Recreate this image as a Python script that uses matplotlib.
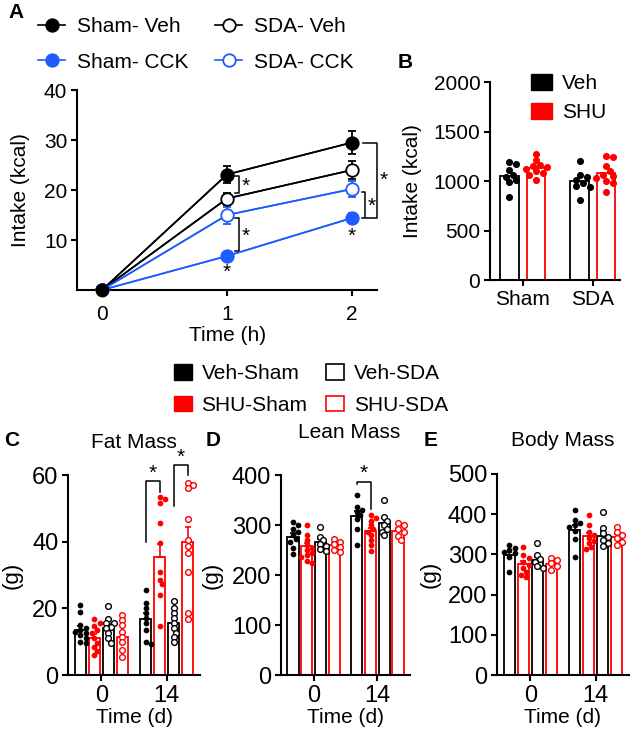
import numpy as np
import matplotlib
matplotlib.use("Agg")
import matplotlib.pyplot as plt
from matplotlib.patches import Patch

plt.rcParams["font.family"] = ["Liberation Sans", "DejaVu Sans"]
plt.rcParams["font.size"] = 15
plt.rcParams["axes.linewidth"] = 1.5
plt.rcParams["xtick.major.width"] = 1.5
plt.rcParams["ytick.major.width"] = 1.5
plt.rcParams["xtick.major.size"] = 4
plt.rcParams["ytick.major.size"] = 4

BLUE = "#1f5cff"
RED = "#ff0000"

# ---- panel A: intake time course
time_h = [0, 1, 2]
sham_veh = [0, 23.1, 29.5]
sham_veh_err = [0, 1.7, 2.3]
sda_veh = [0, 18.3, 24.0]
sda_veh_err = [0, 1.2, 1.8]
sham_cck = [0, 6.8, 14.4]
sham_cck_err = [0, 0.6, 1.0]
sda_cck = [0, 15.0, 20.2]
sda_cck_err = [0, 1.7, 1.6]

# ---- panel B: intake per group
b_groups = ["Sham", "SDA"]
b_veh_mean = [1050, 1000]
b_shu_mean = [1135, 1078]
b_veh_pts = [[1195, 1175, 1110, 1060, 1045, 1010, 990, 840],
             [1200, 1060, 1040, 1010, 980, 950, 940, 810]]
b_shu_pts = [[1270, 1210, 1160, 1150, 1140, 1120, 1100, 1080, 1060, 1010],
             [1250, 1245, 1150, 1100, 1060, 1050, 1030, 1000, 980, 890]]

# ---- panels C-E: body composition (order: Veh-Sham, SHU-Sham, Veh-SDA, SHU-SDA)
days = ["0", "14"]
fat_pts = [
    [[21, 19, 15, 14, 13.5, 13, 12.5, 12, 11, 10, 9.5], [25.5, 21.5, 20, 18.5, 17, 15.5, 13.5, 10, 9.3]],
    [[16.7, 15.7, 14.7, 13.5, 12.5, 11, 9.7, 8.5, 7.3, 6], [53.3, 52.7, 51.7, 45.7, 39.7, 31, 28.5, 27.3, 24, 14.7]],
    [[20.7, 16.7, 15.7, 15.5, 14.5, 14, 12.5, 11, 9.7], [22.3, 20, 18.5, 17, 15.5, 14, 12.7, 11.5, 10]],
    [[18, 16.5, 15, 13, 11.5, 10, 7.5, 5.5], [57.7, 57, 56, 46.7, 40.5, 38.7, 36.5, 31, 18.5, 16.7]],
]
fat_mean = [[13.5, 16.7], [11.2, 35.5], [14.1, 15.7], [11.5, 39.8]]
fat_err = [[1.1, 1.8], [1.1, 3.8], [1.1, 1.3], [1.5, 4.5]]

lean_pts = [
    [[306, 300, 293, 287, 280, 273, 267, 255, 243], [360, 337, 331, 327, 320, 313, 293, 260]],
    [[300, 280, 270, 260, 255, 250, 245, 240, 237, 228, 225], [320, 315, 309, 300, 293, 287, 280, 270, 260, 249]],
    [[297, 277, 270, 263, 258, 253, 249], [351, 317, 309, 300, 293, 287, 280]],
    [[273, 267, 262, 257, 251, 247], [305, 300, 293, 287, 278, 270]],
]
lean_mean = [[277, 318], [258, 288], [266, 305], [260, 289]]
lean_err = [[7, 11], [7, 7], [6, 9], [4, 6]]

body_pts = [
    [[323, 315, 311, 307, 303, 294, 257], [410, 386, 379, 373, 369, 357, 338, 293]],
    [[318, 298, 290, 282, 274, 266, 257, 249, 243], [398, 373, 356, 348, 340, 334, 328, 319, 313]],
    [[328, 298, 288, 280, 271, 266], [406, 365, 352, 344, 336, 328, 321]],
    [[290, 286, 278, 270, 261], [368, 356, 348, 340, 332, 324]],
]
body_mean = [[298, 361], [276, 345], [285, 347], [277, 344]]
body_err = [[8, 13], [7, 9], [9, 11], [5, 7]]

group_labels = ["Veh-Sham", "SHU-Sham", "Veh-SDA", "SHU-SDA"]

W, H = 634, 733
fig = plt.figure(figsize=(W / 100, H / 100), dpi=100)


def fx(px):
    return px / W


def fy(py):
    return 1 - py / H


def box(l, t, r, b):
    return [fx(l), fy(b), (r - l) / W, (b - t) / H]


def style_axes(ax):
    ax.spines["top"].set_visible(False)
    ax.spines["right"].set_visible(False)
    ax.tick_params(direction="out", pad=3)


def swarm(ax, x0, values, diam_px):
    # simple deterministic beeswarm in pixel space
    pts = ax.transData.transform([(x0, v) for v in values])
    xs0 = pts[0, 0]
    ys = pts[:, 1]
    offs = np.zeros(len(values))
    placed = []
    step = diam_px * 0.5
    for i in np.argsort(-np.asarray(values, dtype=float)):
        for k in range(40):
            cands = [0.0] if k == 0 else [k * step, -k * step]
            ok = None
            for c in cands:
                if all((c - px) ** 2 + (ys[i] - py) ** 2 >= (diam_px * 0.8) ** 2 for px, py in placed):
                    ok = c
                    break
            if ok is not None:
                offs[i] = ok
                placed.append((ok, ys[i]))
                break
    inv = ax.transData.inverted()
    return [inv.transform((xs0 + o, y))[0] for o, y in zip(offs, ys)]


def bracket(ax, x0, x1, y0, y1, xend=None, lw=1.1):
    # "]" shape: (x0,y0) -> (x1,y0) -> (x1,y1) -> (xend,y1)
    xe = x0 if xend is None else xend
    ax.plot([x0, x1, x1, xe], [y0, y0, y1, y1], color="k", lw=lw, clip_on=False)


# ================= Panel A =================
axA = fig.add_axes(box(77, 90, 377, 290))
style_axes(axA)
axA.set_xlim(-0.2, 2.2)
axA.set_ylim(0, 40)
series = [
    (sham_veh, sham_veh_err, "k", "k", "Sham- Veh"),
    (sda_veh, sda_veh_err, "k", "white", "SDA- Veh"),
    (sda_cck, sda_cck_err, BLUE, "white", "SDA- CCK"),
    (sham_cck, sham_cck_err, BLUE, BLUE, "Sham- CCK"),
]
handles = {}
for vals, err, col, fc, lab in series:
    axA.errorbar(time_h, vals, yerr=err, color=col, lw=1.2, elinewidth=1.3, capsize=3,
                 capthick=1.3, zorder=2)
    h, = axA.plot(time_h, vals, color=col, lw=1.2, marker="o", markersize=9,
                  markerfacecolor=fc, markeredgecolor=col, markeredgewidth=1.3, zorder=3)
    handles[lab] = h
axA.plot([0], [0], "o", color="k", markersize=9, zorder=4, clip_on=False)
axA.set_xticks([0, 1, 2])
axA.set_yticks([10, 20, 30, 40])
axA.tick_params(axis="x", pad=7)
axA.set_ylabel("Intake (kcal)")
axA.yaxis.set_label_coords(-0.157, 0.5)
axA.set_xlabel("Time (h)", labelpad=0)
axA.xaxis.set_label_coords(0.503, -0.178)

bracket(axA, 1.064, 1.096, 22.9, 19.5)
axA.text(1.15, 20.8, "*", ha="center", va="center", fontsize=15)
bracket(axA, 1.064, 1.096, 14.4, 7.8)
axA.text(1.15, 10.8, "*", ha="center", va="center", fontsize=15)
axA.text(1.0, 3.6, "*", ha="center", va="center", fontsize=15)
axA.text(2.0, 10.8, "*", ha="center", va="center", fontsize=15)
bracket(axA, 2.08, 2.104, 19.7, 14.4)
axA.text(2.155, 16.8, "*", ha="center", va="center", fontsize=15)
bracket(axA, 2.09, 2.2, 29.5, 14.4, xend=2.11)
axA.text(2.25, 22.0, "*", ha="center", va="center", fontsize=15, clip_on=False)

fig.legend([handles["Sham- Veh"], handles["Sham- CCK"], handles["SDA- Veh"], handles["SDA- CCK"]],
           ["Sham- Veh", "Sham- CCK", "SDA- Veh", "SDA- CCK"], ncol=2, loc="upper left",
           bbox_to_anchor=(fx(38), fy(17)), frameon=False, fontsize=15, handlelength=1.3,
           handletextpad=0.55, columnspacing=1.3, labelspacing=0.8, borderpad=0, borderaxespad=0)

fig.text(fx(8), fy(12), "A", fontsize=15, fontweight="bold", ha="left", va="center")

# ================= Panel B =================
axB = fig.add_axes(box(490, 82, 620, 280))
style_axes(axB)
axB.set_xlim(-0.467, 1.386)
axB.set_ylim(0, 2000)
bx = np.arange(len(b_groups))
bw = 0.26
for means, pts, col, off in [(b_veh_mean, b_veh_pts, "k", -0.19), (b_shu_mean, b_shu_pts, RED, 0.19)]:
    axB.bar(bx + off, means, bw, facecolor="white", edgecolor=col, linewidth=1.3, zorder=1)
    for g in range(len(b_groups)):
        xs = swarm(axB, bx[g] + off, pts[g], 7)
        axB.scatter(xs, pts[g], s=26, color=col, zorder=3, linewidths=0)
axB.set_xticks(bx)
axB.set_xticklabels(b_groups)
axB.set_yticks([0, 500, 1000, 1500, 2000])
axB.set_ylabel("Intake (kcal)")
axB.yaxis.set_label_coords(-0.52, 0.5)
fig.legend([Patch(fc="k", ec="k"), Patch(fc=RED, ec=RED)], ["Veh", "SHU"], loc="upper left",
           bbox_to_anchor=(fx(531), fy(74)), frameon=False, fontsize=15, handlelength=1.0,
           handleheight=0.8, handletextpad=0.5, labelspacing=0.45, borderpad=0, borderaxespad=0)
fig.text(fx(398), fy(62), "B", fontsize=15, fontweight="bold", ha="left", va="center")

# ================= middle legend =================
fig.legend([Patch(fc="k", ec="k"), Patch(fc=RED, ec=RED),
            Patch(fc="white", ec="k", lw=1.2), Patch(fc="white", ec=RED, lw=1.2)],
           group_labels, ncol=2, loc="upper left", bbox_to_anchor=(fx(174), fy(364)),
           frameon=False, fontsize=15, handlelength=0.87, handleheight=0.77, handletextpad=0.45,
           columnspacing=0.9, labelspacing=0.62, borderpad=0, borderaxespad=0)

# ================= Panels C-E =================
offsets = (np.arange(4) - 1.5) * 0.215
width = 0.174
colors = ["k", RED, "k", RED]
filled = [True, True, False, False]


def mass_panel(rect, pts, means, errs, ylim, yticks, title, title_xy, letter, letter_xy, ylab_x):
    ax = fig.add_axes(rect)
    style_axes(ax)
    ax.set_xlim(-0.51, 1.51)
    ax.set_ylim(*ylim)
    ax.set_yticks(yticks)
    ax.set_xticks([0, 1])
    ax.set_xticklabels(days)
    ax.tick_params(labelsize=17)
    for j in range(4):
        xs_bar = np.arange(2) + offsets[j]
        ax.bar(xs_bar, means[j], width, facecolor="white", edgecolor=colors[j], linewidth=1.3, zorder=1)
        ax.errorbar(xs_bar, means[j], yerr=[[0, 0], errs[j]], fmt="none", ecolor=colors[j],
                    elinewidth=1.2, capsize=2.5, capthick=1.2, zorder=2)
        for g in range(2):
            xs = swarm(ax, xs_bar[g], pts[j][g], 5.5)
            if filled[j]:
                ax.scatter(xs, pts[j][g], s=17, color=colors[j], linewidths=0, zorder=3)
            else:
                ax.scatter(xs, pts[j][g], s=17, facecolor="white", edgecolor=colors[j],
                           linewidths=1.0, zorder=3)
    ax.set_ylabel("(g)", fontsize=16)
    ax.yaxis.set_label_coords(ylab_x, 0.5)
    ax.set_xlabel("Time (d)")
    ax.xaxis.set_label_coords(0.5, -0.165)
    fig.text(fx(title_xy[0]), fy(title_xy[1]), title, ha="center", va="center", fontsize=15)
    fig.text(fx(letter_xy[0]), fy(letter_xy[1]), letter, ha="left", va="center", fontsize=15,
             fontweight="bold")
    return ax


axC = mass_panel(box(68, 475, 200, 675), fat_pts, fat_mean, fat_err, (0, 60), [0, 20, 40, 60],
                 "Fat Mass", (134, 442), "C", (4, 440), -0.34)
bracket_pts = [(offsets[0] + 1, 40), (offsets[0] + 1, 58.3), (offsets[1] + 1, 58.3), (offsets[1] + 1, 55)]
axC.plot([p[0] for p in bracket_pts], [p[1] for p in bracket_pts], color="k", lw=1.1, clip_on=False)
axC.text(1 + (offsets[0] + offsets[1]) / 2, 60.5, "*", ha="center", va="center", fontsize=15)
bracket_pts = [(offsets[2] + 1, 50.7), (offsets[2] + 1, 63), (offsets[3] + 1, 63), (offsets[3] + 1, 60)]
axC.plot([p[0] for p in bracket_pts], [p[1] for p in bracket_pts], color="k", lw=1.1, clip_on=False)
axC.text(1 + (offsets[2] + offsets[3]) / 2, 65.3, "*", ha="center", va="center", fontsize=15)

axD = mass_panel(box(281, 475, 410, 675), lean_pts, lean_mean, lean_err, (0, 400), [0, 100, 200, 300, 400],
                 "Lean Mass", (349, 433), "D", (206, 440), -0.45)
bracket_pts = [(offsets[0] + 1, 382), (offsets[0] + 1, 387), (offsets[1] + 1, 387), (offsets[1] + 1, 333)]
axD.plot([p[0] for p in bracket_pts], [p[1] for p in bracket_pts], color="k", lw=1.1, clip_on=False)
axD.text(1 + (offsets[0] + offsets[1]) / 2, 403, "*", ha="center", va="center", fontsize=15)

axE = mass_panel(box(497, 474, 629, 675), body_pts, body_mean, body_err, (0, 500),
                 [0, 100, 200, 300, 400, 500], "Body Mass", (563, 440), "E", (424, 440), -0.43)

fig.savefig("out.png", dpi=100)
